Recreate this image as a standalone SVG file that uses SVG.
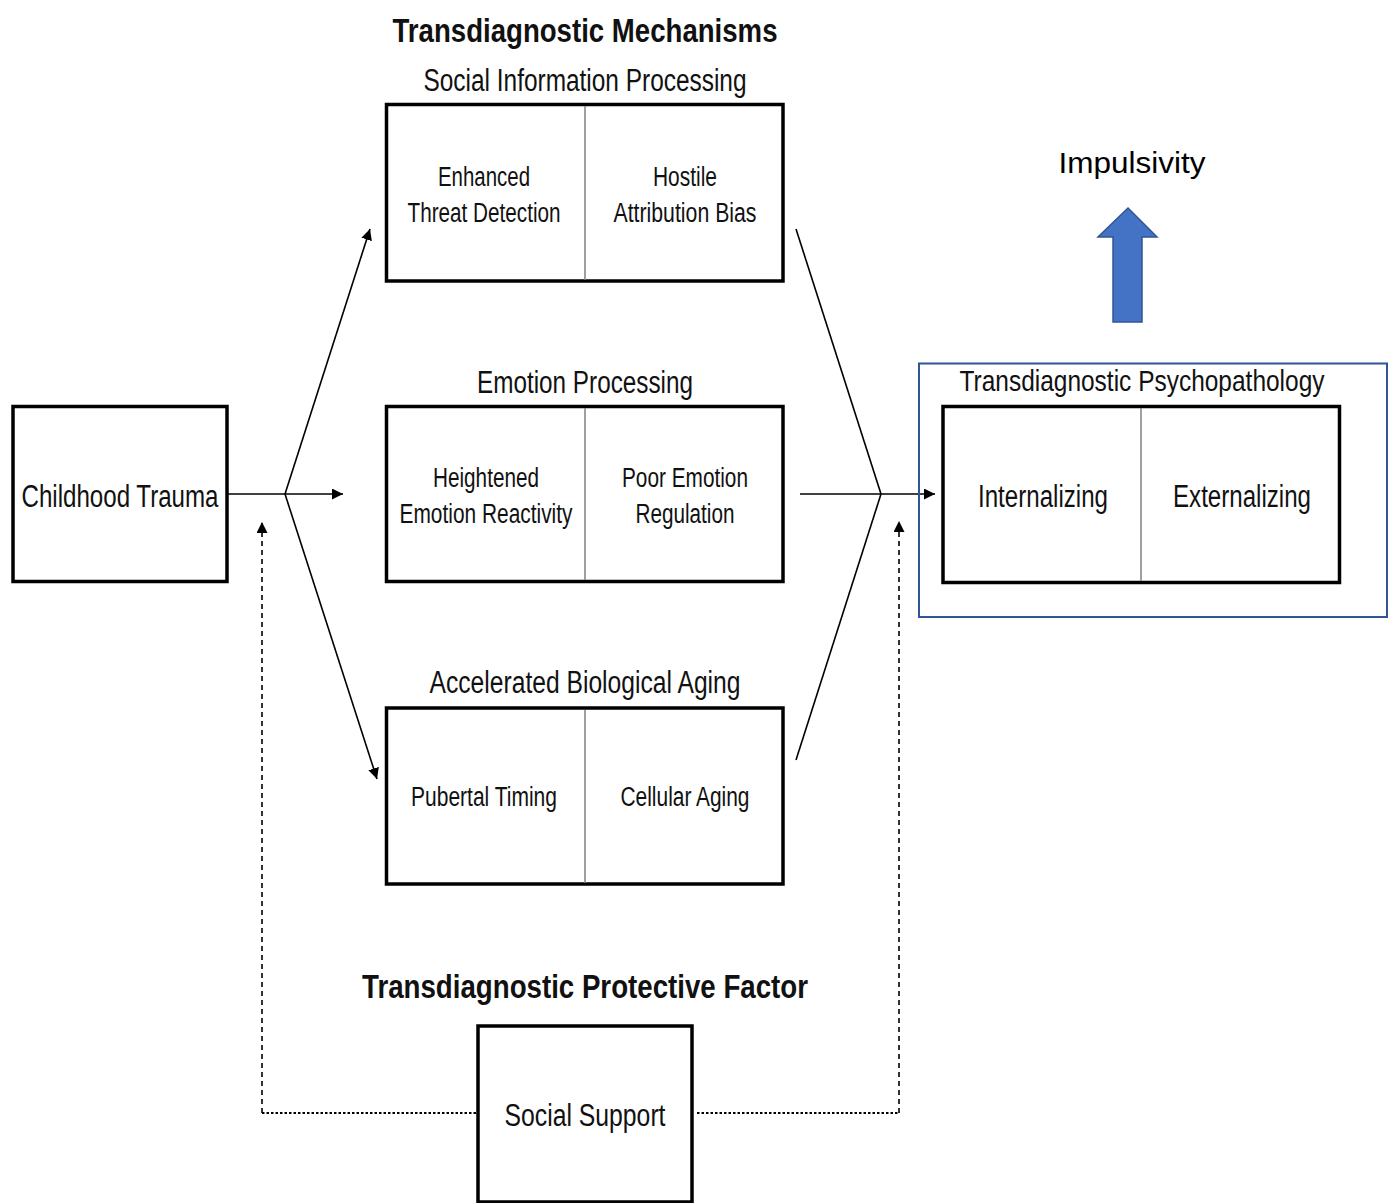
<svg xmlns="http://www.w3.org/2000/svg" width="1395" height="1203" viewBox="0 0 1395 1203">
  <defs>
    <style>
      .box { fill: #ffffff; stroke: #000000; stroke-width: 3.5; }
      .div { stroke: #808080; stroke-width: 1.5; }
      .lbl { font-family: "Liberation Sans", Arial, sans-serif; fill: #111111; text-anchor: middle; }
      .cell { font-size: 27px; }
      .head { font-size: 31px; }
      .title { font-size: 33px; font-weight: bold; }
      .conn { stroke: #000000; stroke-width: 1.6; fill: none; }
      .dash { stroke: #000000; stroke-width: 1.6; fill: none; stroke-dasharray: 5 4; }
      .dot { stroke: #000000; stroke-width: 1.8; fill: none; stroke-dasharray: 2.5 2; }
    </style>
    <marker id="tip" viewBox="0 0 10 10" refX="10" refY="5" markerWidth="11" markerHeight="11" markerUnits="userSpaceOnUse" orient="auto">
      <path d="M0,0 L10,5 L0,10 z" fill="#000000"/>
    </marker>
  </defs>

  <rect width="1395" height="1203" fill="#ffffff"/>

  <!-- headings -->
  <text class="lbl title" x="585" y="42" textLength="385" lengthAdjust="spacingAndGlyphs">Transdiagnostic Mechanisms</text>
  <text class="lbl title" x="585" y="998" textLength="446" lengthAdjust="spacingAndGlyphs">Transdiagnostic Protective Factor</text>

  <!-- connectors -->
  <g id="connectors">
    <line class="conn" x1="228" y1="494" x2="285" y2="494"/>
    <line class="conn" x1="285" y1="494" x2="343" y2="494" marker-end="url(#tip)"/>
    <line class="conn" x1="285" y1="494" x2="370" y2="229" marker-end="url(#tip)"/>
    <line class="conn" x1="285" y1="494" x2="377" y2="779" marker-end="url(#tip)"/>
    <line class="conn" x1="796" y1="229" x2="881" y2="494"/>
    <line class="conn" x1="796" y1="760" x2="881" y2="494"/>
    <line class="conn" x1="800" y1="494" x2="935" y2="494" marker-end="url(#tip)"/>
    <polyline class="dot" points="476,1113 262,1113"/>
    <line class="dash" x1="262" y1="1113" x2="262" y2="522" marker-end="url(#tip)"/>
    <polyline class="dot" points="697,1113 899,1113"/>
    <line class="dash" x1="899" y1="1113" x2="899" y2="521" marker-end="url(#tip)"/>
  </g>

  <!-- Childhood Trauma -->
  <g id="trauma">
    <rect class="box" x="13" y="406.5" width="214" height="175"/>
    <text class="lbl head" x="120" y="507" textLength="197" lengthAdjust="spacingAndGlyphs">Childhood Trauma</text>
  </g>

  <!-- Social Information Processing -->
  <g id="social-info">
    <text class="lbl head" x="585" y="91" textLength="323" lengthAdjust="spacingAndGlyphs">Social Information Processing</text>
    <rect class="box" x="386.5" y="104.5" width="396.5" height="176.5"/>
    <line class="div" x1="585" y1="106" x2="585" y2="280"/>
    <text class="lbl cell" x="484" y="186" textLength="92" lengthAdjust="spacingAndGlyphs">Enhanced</text>
    <text class="lbl cell" x="484" y="222" textLength="153" lengthAdjust="spacingAndGlyphs">Threat Detection</text>
    <text class="lbl cell" x="685" y="186" textLength="64" lengthAdjust="spacingAndGlyphs">Hostile</text>
    <text class="lbl cell" x="685" y="222" textLength="143" lengthAdjust="spacingAndGlyphs">Attribution Bias</text>
  </g>

  <!-- Emotion Processing -->
  <g id="emotion">
    <text class="lbl head" x="585" y="393" textLength="216" lengthAdjust="spacingAndGlyphs">Emotion Processing</text>
    <rect class="box" x="386.5" y="406.5" width="396.5" height="175"/>
    <line class="div" x1="585" y1="408" x2="585" y2="580"/>
    <text class="lbl cell" x="486" y="487" textLength="106" lengthAdjust="spacingAndGlyphs">Heightened</text>
    <text class="lbl cell" x="486" y="523" textLength="173" lengthAdjust="spacingAndGlyphs">Emotion Reactivity</text>
    <text class="lbl cell" x="685" y="487" textLength="126" lengthAdjust="spacingAndGlyphs">Poor Emotion</text>
    <text class="lbl cell" x="685" y="523" textLength="99" lengthAdjust="spacingAndGlyphs">Regulation</text>
  </g>

  <!-- Accelerated Biological Aging -->
  <g id="aging">
    <text class="lbl head" x="585" y="693" textLength="311" lengthAdjust="spacingAndGlyphs">Accelerated Biological Aging</text>
    <rect class="box" x="386.5" y="708" width="396.5" height="176"/>
    <line class="div" x1="585" y1="710" x2="585" y2="883"/>
    <text class="lbl cell" x="484" y="806" textLength="146" lengthAdjust="spacingAndGlyphs">Pubertal Timing</text>
    <text class="lbl cell" x="685" y="806" textLength="129" lengthAdjust="spacingAndGlyphs">Cellular Aging</text>
  </g>

  <!-- Social Support -->
  <g id="support">
    <rect class="box" x="478" y="1026" width="214" height="176"/>
    <text class="lbl head" x="585" y="1126" textLength="161" lengthAdjust="spacingAndGlyphs">Social Support</text>
  </g>

  <!-- Transdiagnostic Psychopathology -->
  <g id="psychopathology">
    <rect x="919" y="363.5" width="468" height="253.5" fill="none" stroke="#2f5597" stroke-width="2"/>
    <text class="lbl" x="1142" y="391" font-size="30" textLength="365" lengthAdjust="spacingAndGlyphs">Transdiagnostic Psychopathology</text>
    <rect class="box" x="943" y="406.5" width="396.5" height="176"/>
    <line class="div" x1="1141" y1="408" x2="1141" y2="581"/>
    <text class="lbl head" x="1043" y="507" textLength="130" lengthAdjust="spacingAndGlyphs">Internalizing</text>
    <text class="lbl head" x="1242" y="507" textLength="138" lengthAdjust="spacingAndGlyphs">Externalizing</text>
  </g>

  <!-- Impulsivity -->
  <g id="impulsivity">
    <text x="1132" y="173" font-family="Liberation Sans, Arial, sans-serif" font-size="30" fill="#000000" text-anchor="middle" textLength="147" lengthAdjust="spacingAndGlyphs">Impulsivity</text>
    <path d="M1113,322 L1113,237 L1098,237 L1128,208 L1157,237 L1142,237 L1142,322 Z" fill="#4472c4" stroke="#2f5597" stroke-width="1.5"/>
  </g>
</svg>
